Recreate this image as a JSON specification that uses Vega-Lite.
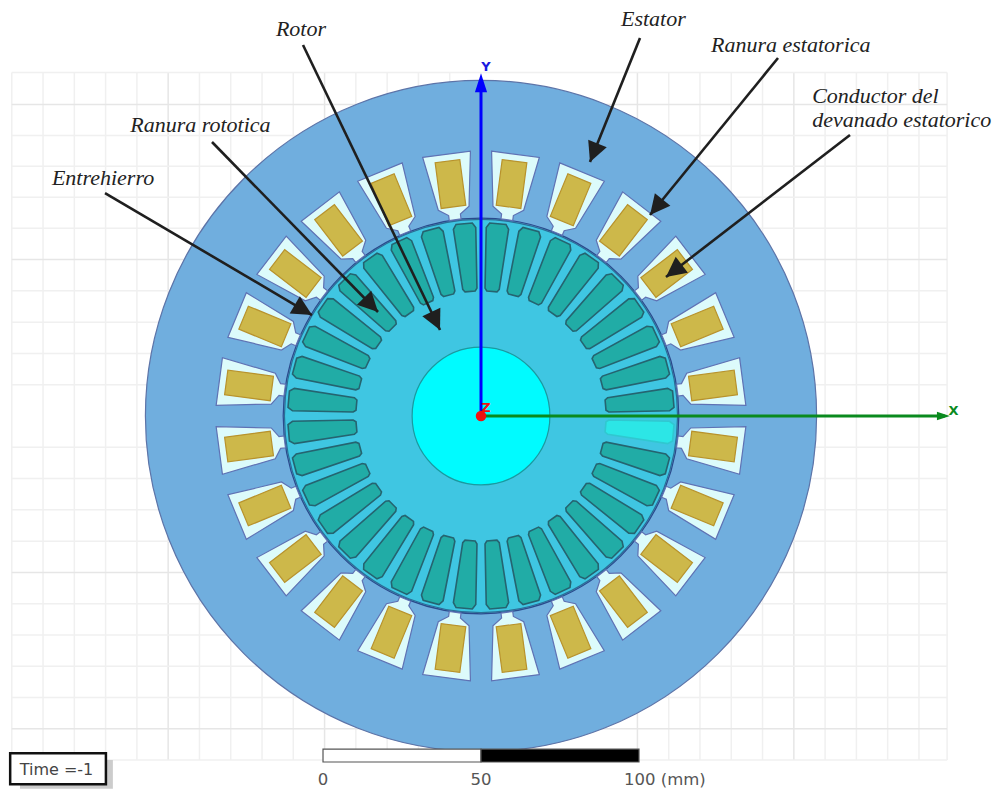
{
"$schema":"https://vega.github.io/schema/vega-lite/v6.json",
"width":998,"height":789,"padding":0,"autosize":{"type":"none"},"background":"white",
"config":{"view":{"stroke":null}},
"resolve":{"scale":{"fill":"independent","stroke":"independent","size":"independent","strokeWidth":"independent"}},
"datasets":{
"gridV":[{"x":-148.5,"y":108.7,"y2":-108.9,"k":"minor"},{"x":-138.6,"y":108.7,"y2":-108.9,"k":"minor"},{"x":-128.7,"y":108.7,"y2":-108.9,"k":"minor"},{"x":-118.8,"y":108.7,"y2":-108.9,"k":"minor"},{"x":-108.9,"y":108.7,"y2":-108.9,"k":"minor"},{"x":-99,"y":108.7,"y2":-108.9,"k":"major"},{"x":-89.1,"y":108.7,"y2":-108.9,"k":"minor"},{"x":-79.2,"y":108.7,"y2":-108.9,"k":"minor"},{"x":-69.3,"y":108.7,"y2":-108.9,"k":"minor"},{"x":-59.4,"y":108.7,"y2":-108.9,"k":"minor"},{"x":-49.5,"y":108.7,"y2":-108.9,"k":"major"},{"x":-39.6,"y":108.7,"y2":-108.9,"k":"minor"},{"x":-29.7,"y":108.7,"y2":-108.9,"k":"minor"},{"x":-19.8,"y":108.7,"y2":-108.9,"k":"minor"},{"x":-9.9,"y":108.7,"y2":-108.9,"k":"minor"},{"x":49.5,"y":108.7,"y2":-108.9,"k":"major"},{"x":59.4,"y":108.7,"y2":-108.9,"k":"minor"},{"x":69.3,"y":108.7,"y2":-108.9,"k":"minor"},{"x":79.2,"y":108.7,"y2":-108.9,"k":"minor"},{"x":89.1,"y":108.7,"y2":-108.9,"k":"minor"},{"x":99,"y":108.7,"y2":-108.9,"k":"major"},{"x":108.9,"y":108.7,"y2":-108.9,"k":"minor"},{"x":118.8,"y":108.7,"y2":-108.9,"k":"minor"},{"x":128.7,"y":108.7,"y2":-108.9,"k":"minor"},{"x":138.6,"y":108.7,"y2":-108.9,"k":"minor"},{"x":147.5,"y":108.7,"y2":-108.9,"k":"minor"}],
"gridH":[{"y":108.7,"x":-148.5,"x2":147.5,"k":"minor"},{"y":98.6,"x":-148.5,"x2":147.5,"k":"major"},{"y":88.8,"x":-148.5,"x2":147.5,"k":"minor"},{"y":79,"x":-148.5,"x2":147.5,"k":"minor"},{"y":69.2,"x":-148.5,"x2":147.5,"k":"minor"},{"y":59.4,"x":-148.5,"x2":147.5,"k":"minor"},{"y":49.5,"x":-148.5,"x2":147.5,"k":"major"},{"y":39.6,"x":-148.5,"x2":147.5,"k":"minor"},{"y":29.7,"x":-148.5,"x2":147.5,"k":"minor"},{"y":19.8,"x":-148.5,"x2":147.5,"k":"minor"},{"y":9.9,"x":-148.5,"x2":147.5,"k":"minor"},{"y":-9.9,"x":-148.5,"x2":147.5,"k":"minor"},{"y":-19.8,"x":-148.5,"x2":147.5,"k":"minor"},{"y":-29.7,"x":-148.5,"x2":147.5,"k":"minor"},{"y":-39.6,"x":-148.5,"x2":147.5,"k":"minor"},{"y":-49.5,"x":-148.5,"x2":147.5,"k":"major"},{"y":-59.4,"x":-148.5,"x2":147.5,"k":"minor"},{"y":-69.3,"x":-148.5,"x2":147.5,"k":"minor"},{"y":-79.2,"x":-148.5,"x2":147.5,"k":"minor"},{"y":-89.1,"x":-148.5,"x2":147.5,"k":"minor"},{"y":-99,"x":-148.5,"x2":147.5,"k":"major"},{"y":-108.9,"x":-148.5,"x2":147.5,"k":"minor"}],
"discs":[{"part":"stator","x":0,"y":0,"r":106.2},{"part":"gap","x":0,"y":0,"r":62.6},{"part":"rotor","x":0,"y":0,"r":62.2},{"part":"shaft","x":0,"y":0,"r":21.8}],
"statorSlots":[
{"x":9.54,"y":72.47,"a":7.5},{"x":27.98,"y":67.54,"a":22.5},{"x":44.5,"y":58,"a":37.5},{"x":58,"y":44.5,"a":52.5},{"x":67.54,"y":27.98,"a":67.5},{"x":72.47,"y":9.54,"a":82.5},
{"x":72.47,"y":-9.54,"a":97.5},{"x":67.54,"y":-27.98,"a":112.5},{"x":58,"y":-44.5,"a":127.5},{"x":44.5,"y":-58,"a":142.5},{"x":27.98,"y":-67.54,"a":157.5},{"x":9.54,"y":-72.47,"a":172.5},
{"x":-9.54,"y":-72.47,"a":187.5},{"x":-27.98,"y":-67.54,"a":202.5},{"x":-44.5,"y":-58,"a":217.5},{"x":-58,"y":-44.5,"a":232.5},{"x":-67.54,"y":-27.98,"a":247.5},{"x":-72.47,"y":-9.54,"a":262.5},
{"x":-72.47,"y":9.54,"a":277.5},{"x":-67.54,"y":27.98,"a":292.5},{"x":-58,"y":44.5,"a":307.5},{"x":-44.5,"y":58,"a":322.5},{"x":-27.98,"y":67.54,"a":337.5},{"x":-9.54,"y":72.47,"a":352.5}],
"conductors":[
{"x":9.66,"y":73.41,"a":7.5},{"x":28.34,"y":68.41,"a":22.5},{"x":45.08,"y":58.75,"a":37.5},{"x":58.75,"y":45.08,"a":52.5},{"x":68.41,"y":28.34,"a":67.5},{"x":73.41,"y":9.66,"a":82.5},
{"x":73.41,"y":-9.66,"a":97.5},{"x":68.41,"y":-28.34,"a":112.5},{"x":58.75,"y":-45.08,"a":127.5},{"x":45.08,"y":-58.75,"a":142.5},{"x":28.34,"y":-68.41,"a":157.5},{"x":9.66,"y":-73.41,"a":172.5},
{"x":-9.66,"y":-73.41,"a":187.5},{"x":-28.34,"y":-68.41,"a":202.5},{"x":-45.08,"y":-58.75,"a":217.5},{"x":-58.75,"y":-45.08,"a":232.5},{"x":-68.41,"y":-28.34,"a":247.5},{"x":-73.41,"y":-9.66,"a":262.5},
{"x":-73.41,"y":9.66,"a":277.5},{"x":-68.41,"y":28.34,"a":292.5},{"x":-58.75,"y":45.08,"a":307.5},{"x":-45.08,"y":58.75,"a":322.5},{"x":-28.34,"y":68.41,"a":337.5},{"x":-9.66,"y":73.41,"a":352.5}],
"rotorSlots":[
{"x":4.39,"y":50.13,"a":5,"s":"off"},{"x":13.02,"y":48.6,"a":15,"s":"off"},{"x":21.27,"y":45.6,"a":25,"s":"off"},{"x":28.86,"y":41.22,"a":35,"s":"off"},{"x":35.58,"y":35.58,"a":45,"s":"off"},{"x":41.22,"y":28.86,"a":55,"s":"off"},{"x":45.6,"y":21.27,"a":65,"s":"off"},{"x":48.6,"y":13.02,"a":75,"s":"off"},{"x":50.13,"y":4.39,"a":85,"s":"off"},
{"x":50.13,"y":-4.39,"a":95,"s":"on"},{"x":48.6,"y":-13.02,"a":105,"s":"off"},{"x":45.6,"y":-21.27,"a":115,"s":"off"},{"x":41.22,"y":-28.86,"a":125,"s":"off"},{"x":35.58,"y":-35.58,"a":135,"s":"off"},{"x":28.86,"y":-41.22,"a":145,"s":"off"},{"x":21.27,"y":-45.6,"a":155,"s":"off"},{"x":13.02,"y":-48.6,"a":165,"s":"off"},{"x":4.39,"y":-50.13,"a":175,"s":"off"},
{"x":-4.39,"y":-50.13,"a":185,"s":"off"},{"x":-13.02,"y":-48.6,"a":195,"s":"off"},{"x":-21.27,"y":-45.6,"a":205,"s":"off"},{"x":-28.86,"y":-41.22,"a":215,"s":"off"},{"x":-35.58,"y":-35.58,"a":225,"s":"off"},{"x":-41.22,"y":-28.86,"a":235,"s":"off"},{"x":-45.6,"y":-21.27,"a":245,"s":"off"},{"x":-48.6,"y":-13.02,"a":255,"s":"off"},{"x":-50.13,"y":-4.39,"a":265,"s":"off"},
{"x":-50.13,"y":4.39,"a":275,"s":"off"},{"x":-48.6,"y":13.02,"a":285,"s":"off"},{"x":-45.6,"y":21.27,"a":295,"s":"off"},{"x":-41.22,"y":28.86,"a":305,"s":"off"},{"x":-35.58,"y":35.58,"a":315,"s":"off"},{"x":-28.86,"y":41.22,"a":325,"s":"off"},{"x":-21.27,"y":45.6,"a":335,"s":"off"},{"x":-13.02,"y":48.6,"a":345,"s":"off"},{"x":-4.39,"y":50.13,"a":355,"s":"off"}],
"callouts":[
{"x":-56.33,"y":117.41,"x2":-12.97,"y2":27.22,"a":154.3},
{"x":50.32,"y":119.62,"x2":34.49,"y2":80.38,"a":202},
{"x":93.99,"y":113.29,"x2":53.48,"y2":63.61,"a":219.2},
{"x":116.77,"y":88.92,"x2":58.54,"y2":43.99,"a":232.3},
{"x":-85.13,"y":86.71,"x2":-32.59,"y2":32.91,"a":135.7},
{"x":-118.99,"y":70.57,"x2":-53.48,"y2":31.96,"a":120.5}],
"labels":[
{"x":44.3,"y":123.5,"t":"Estator"},
{"x":-64.9,"y":120.4,"t":"Rotor"},
{"x":72.8,"y":115.3,"t":"Ranura estatorica"},
{"x":104.8,"y":99.2,"t":"Conductor del"},
{"x":104.8,"y":91.6,"t":"devanado estatorico"},
{"x":-111,"y":90,"t":"Ranura rototica"},
{"x":-135.8,"y":73,"t":"Entrehierro"}],
"axesLines":[
{"name":"Y","x":0,"y":0,"x2":0,"y2":104.7},
{"name":"X","x":0,"y":0,"x2":146.8,"y2":0}],
"axesHeads":[
{"name":"Y","x":0,"y":108.5,"a":0,"L":1444},
{"name":"X","x":148.4,"y":0,"a":90,"L":676}],
"axesText":[
{"name":"Y","x":1.6,"y":110.6,"t":"Y"},
{"name":"X","x":149.5,"y":1.6,"t":"X"},
{"name":"Z","x":1.6,"y":2.4,"t":"Z"}],
"scaleBar":[{"x":-50,"x2":0,"y":-105.4,"y2":-109.5,"part":"white"},{"x":0,"x2":50,"y":-105.4,"y2":-109.5,"part":"black"}],
"scaleText":[{"x":-50,"y":-116.8,"t":"0"},{"x":0,"y":-116.8,"t":"50"},{"x":58.2,"y":-116.8,"t":"100 (mm)"}],
"timeBox":[{"x":-145.9,"x2":-116.5,"y":-108.9,"y2":-118,"part":"shadow"},{"x":-149,"x2":-118.7,"y":-106.7,"y2":-116.5,"part":"box"}],
"timeText":[{"x":-146,"y":-113.7,"t":"Time =-1"}]
},
"encoding":{
"x":{"field":"x","type":"quantitative","axis":null,"scale":{"domain":[-152.22,163.61],"nice":false,"zero":false}},
"y":{"field":"y","type":"quantitative","axis":null,"scale":{"domain":[-118.04,131.65],"nice":false,"zero":false}}
},
"layer":[
{"data":{"name":"gridV"},"mark":{"type":"rule","strokeWidth":1.5},
"encoding":{"y2":{"field":"y2"},"stroke":{"field":"k","type":"nominal","legend":null,"scale":{"domain":["minor","major"],"range":["#f0f0f0","#e6e6e6"]}}}},
{"data":{"name":"gridH"},"mark":{"type":"rule","strokeWidth":1.5},
"encoding":{"x2":{"field":"x2"},"stroke":{"field":"k","type":"nominal","legend":null,"scale":{"domain":["minor","major"],"range":["#f0f0f0","#e6e6e6"]}}}},
{"data":{"name":"discs"},"mark":{"type":"point","shape":"circle","filled":true,"opacity":1,"strokeWidth":1.2},
"encoding":{
"size":{"field":"r","type":"quantitative","legend":null,"scale":{"type":"pow","exponent":2,"domain":[0,100],"range":[0,399424]}},
"fill":{"field":"part","type":"nominal","legend":null,"scale":{"domain":["stator","gap","rotor","shaft"],"range":["#70aede","#5f8fcc","#3fc6e2","#00fbff"]}},
"stroke":{"field":"part","type":"nominal","legend":null,"scale":{"domain":["stator","gap","rotor","shaft"],"range":["#5d74a8","#2b4a8c","#2b6f96","#1a9aa0"]}}}},
{"data":{"name":"statorSlots"},"mark":{"type":"point","shape":"M-0.73 -1 L0.73 -1 L0.47 0.65 L0.18 0.85 L0.18 1 L-0.18 1 L-0.18 0.85 L-0.47 0.65 Z","size":4356,"filled":true,"opacity":1,"fill":"#dcfbfb","stroke":"#5f72b4","strokeWidth":1.2},
"encoding":{"angle":{"field":"a","type":"quantitative","scale":null}}},
{"data":{"name":"conductors"},"mark":{"type":"point","shape":"M-0.54 -1 L0.54 -1 L0.54 1 L-0.54 1 Z","size":2116,"filled":true,"opacity":1,"fill":"#cdb84a","stroke":"#b8922c","strokeWidth":1.2},
"encoding":{"angle":{"field":"a","type":"quantitative","scale":null}}},
{"data":{"name":"rotorSlots"},"mark":{"type":"point","shape":"M-0.15 1 L0.15 1 L0.21 0.92 L0.33 -0.86 L0.24 -1 L-0.24 -1 L-0.33 -0.86 L-0.21 0.92 Z","size":4624,"filled":true,"opacity":1,"strokeWidth":1.6},
"encoding":{"angle":{"field":"a","type":"quantitative","scale":null},
"fill":{"field":"s","type":"nominal","legend":null,"scale":{"domain":["off","on"],"range":["#21aca6","#2ce6e6"]}},
"stroke":{"field":"s","type":"nominal","legend":null,"scale":{"domain":["off","on"],"range":["#256470","#30c8d0"]}}}},
{"data":{"name":"axesLines"},"mark":{"type":"rule","strokeWidth":3},
"encoding":{"x2":{"field":"x2"},"y2":{"field":"y2"},"stroke":{"field":"name","type":"nominal","legend":null,"scale":{"domain":["Y","X"],"range":["#0000ff","#0a8a1e"]}}}},
{"data":{"name":"axesHeads"},"mark":{"type":"point","shape":"M0 0 L-0.32 1 L0.32 1 Z","filled":true,"opacity":1},
"encoding":{"angle":{"field":"a","type":"quantitative","scale":null},"size":{"field":"L","type":"quantitative","scale":null,"legend":null},
"fill":{"field":"name","type":"nominal","legend":null,"scale":{"domain":["Y","X"],"range":["#0000ff","#0a8a1e"]}}}},
{"data":{"values":[{"x":0,"y":0}]},"mark":{"type":"point","shape":"circle","filled":true,"opacity":1,"size":110,"fill":"#f01010"}},
{"data":{"name":"axesText"},"mark":{"type":"text","font":"DejaVu Sans","fontWeight":"bold","fontSize":13,"align":"center","baseline":"middle"},
"encoding":{"text":{"field":"t"},"fill":{"field":"name","type":"nominal","legend":null,"scale":{"domain":["Y","X","Z"],"range":["#1a1ae0","#0a8a1e","#f01010"]}}}},
{"data":{"name":"callouts"},"mark":{"type":"rule","stroke":"#1f1f1f","strokeWidth":2.6},
"encoding":{"x2":{"field":"x2"},"y2":{"field":"y2"}}},
{"data":{"name":"callouts"},"mark":{"type":"point","shape":"M0 0 L-0.5 1 L0.5 1 Z","size":1600,"filled":true,"opacity":1,"fill":"#1f1f1f"},
"encoding":{"x":{"field":"x2","type":"quantitative"},"y":{"field":"y2","type":"quantitative"},"angle":{"field":"a","type":"quantitative","scale":null}}},
{"data":{"name":"labels"},"mark":{"type":"text","font":"Liberation Serif","fontStyle":"italic","fontSize":22,"align":"left","baseline":"alphabetic","fill":"#222222"},
"encoding":{"text":{"field":"t"}}},
{"data":{"name":"scaleBar"},"mark":{"type":"rect","stroke":"#555555","strokeWidth":1.2},
"encoding":{"x2":{"field":"x2"},"y2":{"field":"y2"},"fill":{"field":"part","type":"nominal","legend":null,"scale":{"domain":["white","black"],"range":["#ffffff","#000000"]}}}},
{"data":{"name":"scaleText"},"mark":{"type":"text","font":"DejaVu Sans","fontSize":16.5,"align":"center","baseline":"alphabetic","fill":"#555555"},
"encoding":{"text":{"field":"t"}}},
{"data":{"name":"timeBox"},"mark":{"type":"rect"},
"encoding":{"x2":{"field":"x2"},"y2":{"field":"y2"},
"fill":{"field":"part","type":"nominal","legend":null,"scale":{"domain":["shadow","box"],"range":["#cccccc","#ffffff"]}},
"stroke":{"field":"part","type":"nominal","legend":null,"scale":{"domain":["shadow","box"],"range":["#cccccc","#111111"]}},
"strokeWidth":{"field":"part","type":"nominal","legend":null,"scale":{"domain":["shadow","box"],"range":[0,2.5]}}}},
{"data":{"name":"timeText"},"mark":{"type":"text","font":"DejaVu Sans","fontSize":16,"align":"left","baseline":"alphabetic","fill":"#444444"},
"encoding":{"text":{"field":"t"}}}
]
}
